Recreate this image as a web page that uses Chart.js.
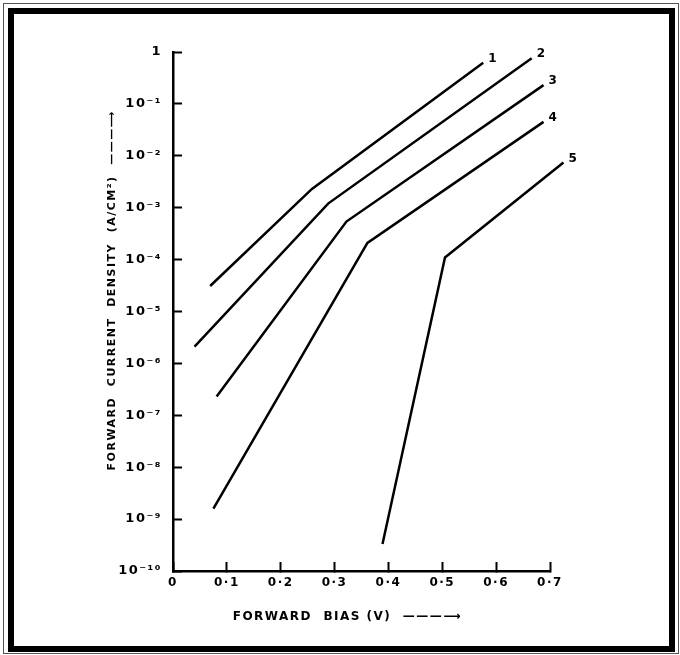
<!DOCTYPE html>
<html>
<head>
<meta charset="utf-8">
<title>Forward current density vs forward bias</title>
<script src="https://cdn.jsdelivr.net/npm/chart.js@4.4.1/dist/chart.umd.min.js"></script>
<style>
    html, body { margin: 0; padding: 0; background: #fff; }
    #wrap { position: relative; width: 680px; height: 655px; overflow: hidden; }
    #chart { position: absolute; left: 0; top: 0; }
    .frameOuter { position: absolute; left: 3px; top: 3px; right: 1px; bottom: 1px; border: 1px solid #555; }
    .frameInner { position: absolute; left: 8px; top: 8px; right: 5px; bottom: 3px; border: 6px solid #000; }
</style>
</head>
<body>
<div id="wrap">
    <canvas id="chart" width="680" height="655"></canvas>
    <div class="frameOuter"></div>
    <div class="frameInner"></div>
</div>

<script>
/* ---------------------------------------------------
   Data (bias in V, current in A/cm2)
---------------------------------------------------*/

const curveNames = ["1", "2", "3", "4", "5"];

const bias1 = [0.069, 0.258, 0.576];
const current1 = [3.1e-5, 2.3e-3, 0.62];

const bias2 = [0.040, 0.288, 0.666];
const current2 = [2.1e-6, 1.2e-3, 0.76];

const bias3 = [0.081, 0.322, 0.688];
const current3 = [2.3e-7, 5.4e-4, 0.23];

const bias4 = [0.075, 0.361, 0.688];
const current4 = [1.6e-9, 2.1e-4, 0.045];

const bias5 = [0.389, 0.505, 0.725];
const current5 = [3.3e-10, 1.1e-4, 7.4e-3];

const xTickValues = [0, 0.1, 0.2, 0.3, 0.4, 0.5, 0.6, 0.7];
const xTickLabels = ["0", "0·1", "0·2", "0·3", "0·4", "0·5", "0·6", "0·7"];

const yTickValues = [1e-10, 1e-9, 1e-8, 1e-7, 1e-6, 1e-5, 1e-4, 1e-3, 1e-2, 1e-1, 1];
const yTickLabels = ["10⁻¹⁰", "10⁻⁹", "10⁻⁸", "10⁻⁷", "10⁻⁶", "10⁻⁵", "10⁻⁴", "10⁻³", "10⁻²", "10⁻¹", "1"];

const allBias = [bias1, bias2, bias3, bias4, bias5];
const allCurrent = [current1, current2, current3, current4, current5];

const FONT = '"DejaVu Sans", sans-serif';

/* ---------------------------------------------------
   Small plugins: letter spacing + curve numbers
---------------------------------------------------*/

const spacingPlugin = {
    id: "spacing",
    beforeUpdate(chart) { chart.ctx.letterSpacing = "1.5px"; },
    beforeDraw(chart) { chart.ctx.letterSpacing = "1.5px"; }
};

const curveNumberPlugin = {
    id: "curveNumbers",
    afterDatasetsDraw(chart) {
        const ctx = chart.ctx;
        ctx.save();
        ctx.fillStyle = "#000";
        ctx.font = "bold 12px " + FONT;
        ctx.textAlign = "left";
        ctx.textBaseline = "middle";
        chart.data.datasets.forEach((ds, i) => {
            const pts = chart.getDatasetMeta(i).data;
            const end = pts[pts.length - 1];
            ctx.fillText(ds.label, end.x + 5, end.y - 4);
        });
        ctx.restore();
    }
};

/* ---------------------------------------------------
   Chart
---------------------------------------------------*/

const datasets = curveNames.map((name, i) => ({
    label: name,
    data: allBias[i].map((x, j) => ({ x: x, y: allCurrent[i][j] })),
    borderColor: "#000",
    borderWidth: 2.5,
    pointRadius: 0,
    tension: 0,
    fill: false,
    clip: false
}));

new Chart(document.getElementById("chart"), {
    type: "line",
    data: { datasets: datasets },
    plugins: [spacingPlugin, curveNumberPlugin],
    options: {
        responsive: false,
        animation: false,
        events: [],
        layout: { padding: { left: 0, top: 52, right: 130, bottom: 0 } },
        plugins: {
            legend: { display: false },
            tooltip: { enabled: false }
        },
        scales: {
            x: {
                type: "linear",
                min: 0,
                max: 0.7,
                afterBuildTicks: s => { s.ticks = xTickValues.map(v => ({ value: v })); },
                afterFit: s => { s.height = 84; },
                border: { color: "#000", width: 2.5 },
                grid: {
                    drawOnChartArea: false,
                    drawTicks: true,
                    tickLength: -9,
                    tickColor: "#000",
                    tickWidth: 2
                },
                ticks: {
                    color: "#000",
                    padding: 14,
                    autoSkip: false,
                    maxRotation: 0,
                    font: { family: FONT, size: 12, weight: "bold" },
                    callback: (v, i) => xTickLabels[i]
                },
                title: {
                    display: true,
                    text: "FORWARD  BIAS (V)  ———⟶     ",
                    color: "#000",
                    font: { family: FONT, size: 12, weight: "bold" },
                    padding: { top: 0, bottom: 31 }
                }
            },
            y: {
                type: "logarithmic",
                min: 1e-10,
                max: 1,
                afterBuildTicks: s => { s.ticks = yTickValues.map(v => ({ value: v })); },
                afterFit: s => { s.width = 173; },
                border: { color: "#000", width: 2.5 },
                grid: {
                    drawOnChartArea: false,
                    drawTicks: true,
                    tickLength: -9,
                    tickColor: "#000",
                    tickWidth: 2
                },
                ticks: {
                    color: "#000",
                    padding: 20,
                    autoSkip: false,
                    font: { family: FONT, size: 13, weight: "bold" },
                    callback: (v, i) => yTickLabels[i]
                },
                title: {
                    display: true,
                    text: "        FORWARD  CURRENT  DENSITY  (A/CM²)  ———⟶",
                    color: "#000",
                    font: { family: FONT, size: 11, weight: "bold" },
                    padding: { top: 106, bottom: 0 }
                }
            }
        }
    }
});
</script>
</body>
</html>
